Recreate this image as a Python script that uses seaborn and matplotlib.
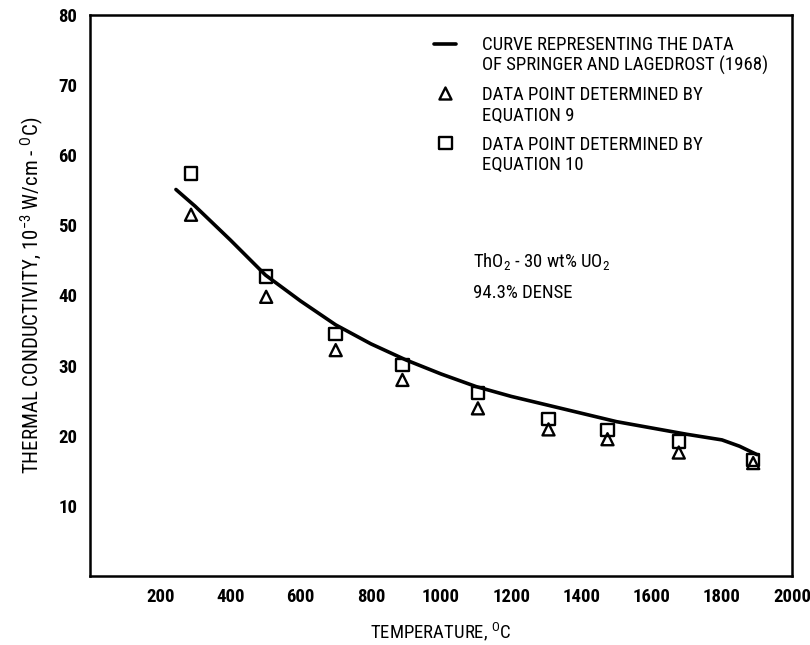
import matplotlib
matplotlib.use("Agg")
import matplotlib.pyplot as plt
import seaborn as sns
from matplotlib.legend_handler import HandlerLine2D, HandlerPathCollection

# ---- data ----
curve_temp = [245, 300, 400, 500, 600, 700, 800, 900, 1000, 1100, 1200, 1300,
              1400, 1500, 1600, 1700, 1800, 1850, 1900]
curve_k = [55.1, 52.7, 47.9, 42.9, 39.2, 35.8, 33.1, 30.8, 28.8, 27.0, 25.6, 24.4,
           23.2, 22.0, 21.1, 20.2, 19.4, 18.5, 17.3]

point_temp = [288, 502, 700, 890, 1105, 1306, 1474, 1677, 1889]
eq9_k = [51.5, 39.8, 32.2, 27.95, 23.9, 20.9, 19.5, 17.6, 16.1]
eq10_k = [57.4, 42.7, 34.5, 30.1, 26.1, 22.4, 20.8, 19.15, 16.5]

x_ticks = [200, 400, 600, 800, 1000, 1200, 1400, 1600, 1800, 2000]
y_ticks = [10, 20, 30, 40, 50, 60, 70, 80]

label_curve = "CURVE REPRESENTING THE DATA\nOF SPRINGER AND LAGEDROST (1968)"
label_eq9 = "DATA POINT DETERMINED BY\nEQUATION 9"
label_eq10 = "DATA POINT DETERMINED BY\nEQUATION 10"

sns.set_style("white")
plt.rcParams["font.family"] = ["Roboto Condensed", "DejaVu Sans"]
plt.rcParams["mathtext.default"] = "regular"
plt.rcParams["text.color"] = "black"
plt.rcParams["axes.labelcolor"] = "black"

fig = plt.figure(figsize=(8.1, 6.45), dpi=100)
ax = fig.add_axes([0.111, 0.107, 0.867, 0.870])

sns.lineplot(x=curve_temp, y=curve_k, color="black", linewidth=2.6, ax=ax,
             label=label_curve)
sns.scatterplot(x=point_temp, y=eq9_k, marker="^", s=75, facecolor="none",
                edgecolor="black", linewidth=1.7, ax=ax, label=label_eq9, zorder=3)
sns.scatterplot(x=point_temp, y=eq10_k, marker="s", s=80, facecolor="none",
                edgecolor="black", linewidth=1.7, ax=ax, label=label_eq10, zorder=3)

ax.set_xlim(0, 2000)
ax.set_ylim(0, 80)
ax.set_xticks(x_ticks)
ax.set_yticks(y_ticks)
ax.set_xticklabels([str(t) for t in x_ticks])
ax.set_yticklabels([str(t) for t in y_ticks])
ax.tick_params(direction="in", length=11, width=1.6, labelsize=13.5, colors="black",
               pad=9)
for lab in ax.get_xticklabels() + ax.get_yticklabels():
    lab.set_fontweight("bold")

for sp in ax.spines.values():
    sp.set_linewidth(1.8)
    sp.set_color("black")

ax.set_xlabel("TEMPERATURE, $^{O}$C", fontsize=13.5, labelpad=10)
ax.set_ylabel("THERMAL CONDUCTIVITY, 10$^{-3}$ W/cm - $^{O}$C)", fontsize=15,
              labelpad=9)

ax.text(0.545, 0.56, "ThO$_2$ - 30 wt% UO$_2$", transform=ax.transAxes,
        fontsize=13.5, va="center", ha="left")
ax.text(0.545, 0.505, "94.3% DENSE", transform=ax.transAxes,
        fontsize=13.5, va="center", ha="left")


class TopLine(HandlerLine2D):
    """Line handle aligned with the first line of a two-line label."""
    def create_artists(self, legend, orig_handle, xdescent, ydescent, width,
                       height, fontsize, trans):
        return super().create_artists(legend, orig_handle, xdescent,
                                      ydescent - 1.3 * fontsize, width, height,
                                      fontsize, trans)


handles, labels = ax.get_legend_handles_labels()
hmap = {handles[0]: TopLine(),
        handles[1]: HandlerPathCollection(yoffsets=[1.45]),
        handles[2]: HandlerPathCollection(yoffsets=[1.45])}
leg = ax.legend(handles, labels, handler_map=hmap, loc="upper left",
                bbox_to_anchor=(0.48, 0.976), frameon=False,
                fontsize=13.5, handlelength=1.17, handletextpad=1.39,
                labelspacing=0.6, borderaxespad=0)
for t in leg.get_texts():
    t.set_color("black")
    t.set_linespacing(1.15)

fig.savefig("out.png", dpi=100)
